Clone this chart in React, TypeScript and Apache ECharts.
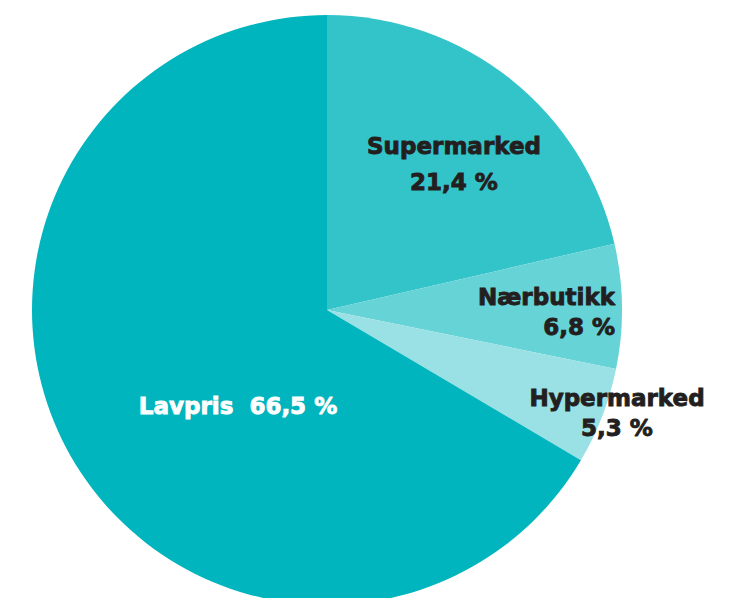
import React, { useEffect, useRef } from "react";
import * as echarts from "echarts";

const categories = ["Supermarked", "Nærbutikk", "Hypermarked", "Lavpris"];
const values = [21.4, 6.8, 5.3, 66.5];
const colors = ["#33C4CA", "#66D3D7", "#99E1E4", "#00B5BD"];

const fmt = (v: number) => v.toFixed(1).replace(".", ",") + " %";

export default function App() {
  const ref = useRef<HTMLDivElement>(null);
  useEffect(() => {
    if (!ref.current) return;
    const chart = echarts.init(ref.current, undefined, { renderer: "svg" });
    const labelPos: Record<string, any> = {
      Supermarked: { x: 454, y: 164, align: "center", lineHeight: 36, color: "#231f20" },
      Nærbutikk: { x: 615, y: 312, align: "right", lineHeight: 30, color: "#231f20" },
      Hypermarked: { x: 617, y: 413, align: "center", lineHeight: 30, color: "#231f20" },
      Lavpris: { x: 238, y: 406, align: "center", lineHeight: 30, color: "#ffffff" },
    };
    chart.setOption({
      animation: false,
      series: [
        {
          type: "pie",
          center: [327, 310],
          radius: [0, 295],
          startAngle: 90,
          clockwise: true,
          silent: true,
          data: categories.map((name, i) => ({
            name,
            value: values[i],
            itemStyle: { color: colors[i] },
            label: {
              show: true,
              position: "inside",
              color: labelPos[name].color,
              textBorderColor: labelPos[name].color,
              textBorderWidth: 0.9,
              lineHeight: labelPos[name].lineHeight,
              align: labelPos[name].align,
              formatter:
                name === "Lavpris"
                  ? `${name}  ${fmt(values[i])}`
                  : `${name}\n${fmt(values[i])}`,
            },
          })),
          label: {
            fontFamily: "'DejaVu Sans', sans-serif",
            fontWeight: "bold",
            fontSize: 23,
          },
          labelLine: { show: false },
          labelLayout: (params: any) => {
            const p = labelPos[categories[params.dataIndex]];
            return { x: p.x, y: p.y, align: p.align, verticalAlign: "middle" };
          },
        },
      ],
    });
    return () => chart.dispose();
  }, []);
  return (
    <div
      ref={ref}
      style={{ position: "absolute", left: 0, top: 0, width: 743, height: 598, background: "#fff" }}
    />
  );
}
